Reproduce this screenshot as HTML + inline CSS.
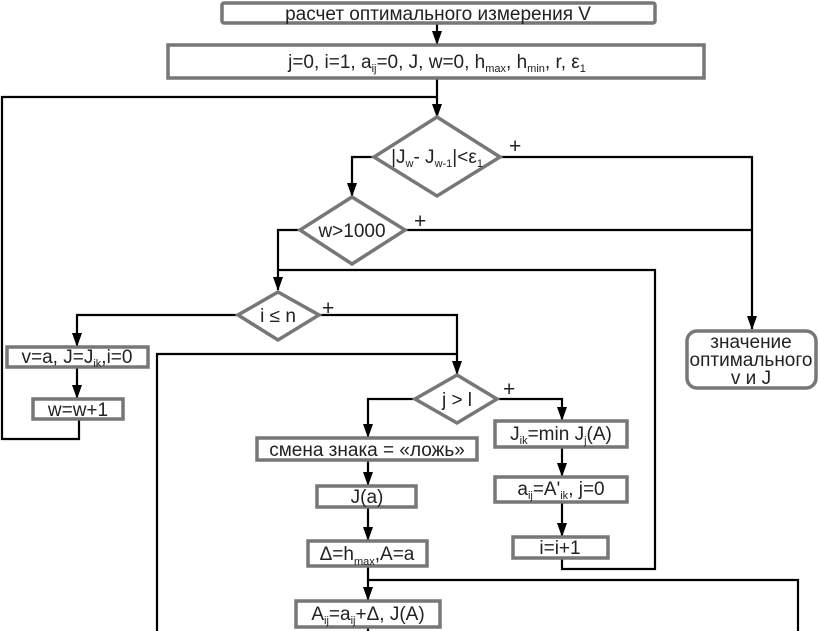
<!DOCTYPE html>
<html><head><meta charset="utf-8"><style>
html,body{margin:0;padding:0;background:#fff;}
svg{display:block;}
text{font-family:"Liberation Sans",sans-serif;font-size:19px;fill:#222;}
.s{font-size:11px;}
.p{font-size:21px;}
</style></head><body>
<svg width="820" height="631" viewBox="0 0 820 631" xmlns="http://www.w3.org/2000/svg">
<defs><marker id="a" markerWidth="10" markerHeight="14" refX="5" refY="13" orient="0" markerUnits="userSpaceOnUse"><path d="M0,0 L10,0 L5,14 Z" fill="#000"/></marker></defs>
<g fill="none" stroke="#000" stroke-width="2.2">
<path d="M437,23 V44" marker-end="url(#a)"/>
<path d="M437,78 V117" marker-end="url(#a)"/>
<path d="M437,97 H2 V439 H79 V419"/>
<path d="M500,157 H752 V329" marker-end="url(#a)"/>
<path d="M405,230 H752"/>
<path d="M374,157 H352 V196" marker-end="url(#a)"/>
<path d="M300,230 H278 V290" marker-end="url(#a)"/>
<path d="M278,270 H655 V569 H562 V558"/>
<path d="M319,315 H457 V374" marker-end="url(#a)"/>
<path d="M238,315 H77 V346" marker-end="url(#a)"/>
<path d="M77,367 V398" marker-end="url(#a)"/>
<path d="M157,631 V354 H457"/>
<path d="M497,399 H562 V420" marker-end="url(#a)"/>
<path d="M415,399 H368 V437" marker-end="url(#a)"/>
<path d="M368,460 V485" marker-end="url(#a)"/>
<path d="M368,507 V540" marker-end="url(#a)"/>
<path d="M368,566 V600" marker-end="url(#a)"/>
<path d="M368,580 H798 V631"/>
<path d="M368,627 V631"/>
<path d="M562,447 V476" marker-end="url(#a)"/>
<path d="M562,502 V536" marker-end="url(#a)"/>
</g>
<g fill="#fff" stroke="#777" stroke-width="3.5">
<rect x="222" y="3" width="433" height="20" rx="2"/>
<rect x="168" y="45" width="536" height="33"/>
<polygon points="437,117 500,157 437,196 374,157"/>
<polygon points="352,197 405,230 352,264 300,230"/>
<polygon points="278,292 319,315 278,340 238,315"/>
<polygon points="457,375 497,399 457,423 415,399"/>
<rect x="687" y="331" width="129" height="57" rx="10"/>
<rect x="7" y="347" width="141" height="20"/>
<rect x="33" y="399" width="90" height="20"/>
<rect x="257" y="438" width="220" height="22"/>
<rect x="317" y="486" width="99" height="21"/>
<rect x="308" y="541" width="119" height="25"/>
<rect x="296" y="601" width="144" height="26"/>
<rect x="495" y="421" width="132" height="26"/>
<rect x="495" y="477" width="132" height="25"/>
<rect x="513" y="537" width="95" height="21"/>
</g>
<text x="438" y="20" text-anchor="middle">расчет оптимального измерения V</text>
<text x="437" y="68" text-anchor="middle">j=0, i=1, a<tspan class="s" dy="4">ij</tspan><tspan dy="-4">=0, J, w=0, h</tspan><tspan class="s" dy="4">max</tspan><tspan dy="-4">, h</tspan><tspan class="s" dy="4">min</tspan><tspan dy="-4">, r, ε</tspan><tspan class="s" dy="4">1</tspan></text>
<text x="437" y="163" text-anchor="middle">|J<tspan class="s" dy="4">w</tspan><tspan dy="-4">- J</tspan><tspan class="s" dy="4">w-1</tspan><tspan dy="-4">|&lt;ε</tspan><tspan class="s" dy="4">1</tspan></text>
<text x="352" y="237" text-anchor="middle">w&gt;1000</text>
<text x="278" y="322" text-anchor="middle">i ≤ n</text>
<text x="457" y="406" text-anchor="middle">j &gt; l</text>
<text class="p" x="509" y="153">+</text>
<text class="p" x="414" y="228">+</text>
<text class="p" x="322" y="315">+</text>
<text class="p" x="503" y="396">+</text>
<text x="751" y="348" text-anchor="middle">значение</text>
<text x="751" y="366" text-anchor="middle">оптимального</text>
<text x="751" y="384" text-anchor="middle">v и J</text>
<text x="77" y="363" text-anchor="middle">v=a, J=J<tspan class="s" dy="4">ik</tspan><tspan dy="-4">,i=0</tspan></text>
<text x="78" y="416" text-anchor="middle">w=w+1</text>
<text x="367" y="456" text-anchor="middle">смена знака = «ложь»</text>
<text x="367" y="503" text-anchor="middle">J(a)</text>
<text x="367" y="560" text-anchor="middle">Δ=h<tspan class="s" dy="5">max</tspan><tspan dy="-5">,A=a</tspan></text>
<text x="368" y="620" text-anchor="middle">A<tspan class="s" dy="4">ij</tspan><tspan dy="-4">=a</tspan><tspan class="s" dy="4">ij</tspan><tspan dy="-4">+Δ, J(A)</tspan></text>
<text x="561" y="440" text-anchor="middle">J<tspan class="s" dy="4">ik</tspan><tspan dy="-4">=min J</tspan><tspan class="s" dy="4">j</tspan><tspan dy="-4">(A)</tspan></text>
<text x="561" y="495" text-anchor="middle">a<tspan class="s" dy="4">ij</tspan><tspan dy="-4">=A'</tspan><tspan class="s" dy="4">ik</tspan><tspan dy="-4">, j=0</tspan></text>
<text x="560" y="554" text-anchor="middle">i=i+1</text>
</svg>
</body></html>
